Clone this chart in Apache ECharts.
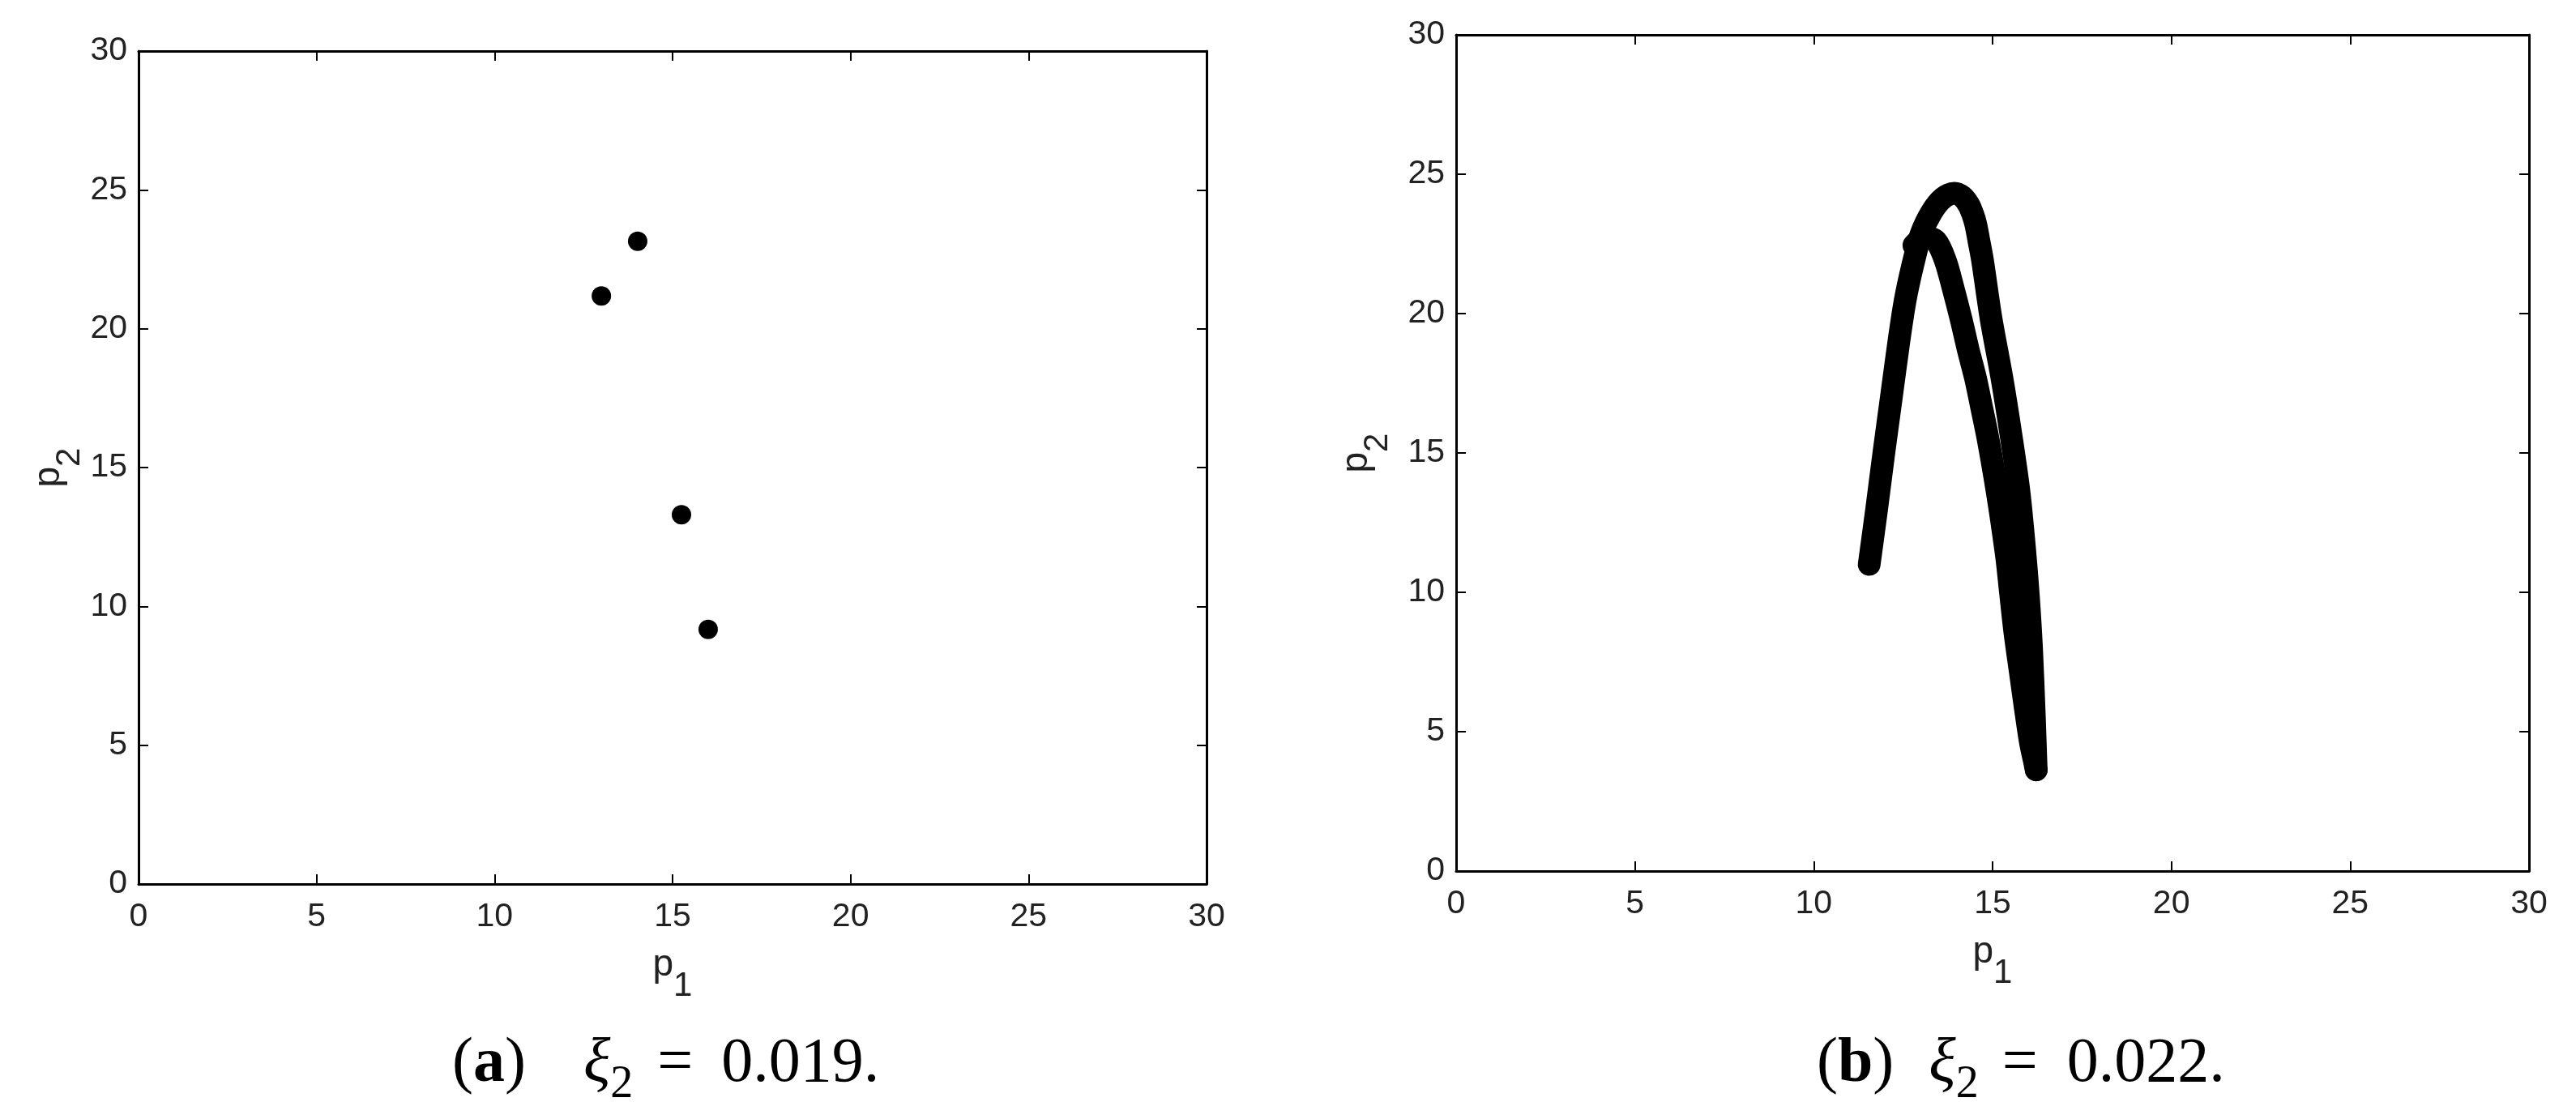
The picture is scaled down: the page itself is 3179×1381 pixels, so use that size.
<!DOCTYPE html>
<html><head><meta charset="utf-8">
<script src="https://cdn.jsdelivr.net/npm/echarts@6/dist/echarts.min.js"></script>
<style>html,body{margin:0;padding:0;background:#fff}#c{width:3179px;height:1381px}</style>
</head><body><div id="c"></div>
<script>
// ---- data ----
const axisMin = 0, axisMax = 30, axisStep = 5;
// panel (a): xi2 = 0.019, four isolated points
const panelA_p1 = [13.0, 14.02, 15.25, 16.0];
const panelA_p2 = [21.18, 23.15, 13.30, 9.17];
// panel (b): xi2 = 0.022, trajectory strands
const panelB_outer_p1 = [11.55, 11.76, 11.96, 12.17, 12.38, 12.56, 12.78, 13.00, 13.30, 13.62, 13.93, 14.15, 14.33, 14.45, 14.53, 14.62, 14.72, 14.96, 15.26, 15.52, 15.74, 15.90, 16.00, 16.09, 16.17, 16.22];
const panelB_outer_p2 = [11.0, 13.0, 15.0, 17.0, 19.0, 20.5, 21.8, 22.85, 23.65, 24.15, 24.32, 24.2, 23.91, 23.55, 23.2, 22.6, 21.9, 19.8, 17.7, 15.6, 13.6, 11.5, 9.9, 8.0, 5.5, 3.63];
const panelB_inner_p1 = [12.80, 13.10, 13.42, 13.68, 13.90, 14.12, 14.32, 14.52, 14.70, 14.86, 15.00, 15.13, 15.26, 15.40, 15.50, 15.62, 15.78, 15.92, 16.06, 16.16, 16.22];
const panelB_inner_p2 = [22.45, 22.75, 22.6, 21.9, 20.9, 19.8, 18.7, 17.7, 16.6, 15.6, 14.6, 13.6, 12.5, 11.2, 10.0, 8.6, 7.1, 5.8, 4.6, 4.0, 3.63];
const xName = 'p', xSub = '1', yName = 'p', ySub = '2';
const captionA = ['(', 'a', ')', 'ξ', '2', '=', '0.019.'];
const captionB = ['(', 'b', ')', 'ξ', '2', '=', '0.022.'];

const zip = (a, b) => a.map((v, i) => [v, b[i]]);
const sans = 'Liberation Sans, Arial, Helvetica, sans-serif';
const serif = 'Liberation Serif, Times New Roman, serif';

const nameRich = {
  m: { fontSize: 46, fontFamily: sans, color: '#222' },
  s: { fontSize: 42, fontFamily: sans, color: '#222', padding: [52, 0, 0, 0] }
};

function makeAxes(g, xGap, yGap) {
  const line = { show: true, onZero: false, lineStyle: { color: '#000', width: 3 } };
  const tick = { show: true, inside: true, length: 12, lineStyle: { color: '#000', width: 2 } };
  const lbl = { fontSize: 41, color: '#222', fontFamily: sans };
  const base = { type: 'value', gridIndex: g, min: axisMin, max: axisMax, interval: axisStep,
    axisLine: line, axisTick: tick, splitLine: { show: false } };
  return {
    x: [
      Object.assign({}, base, { position: 'bottom', axisLabel: Object.assign({ margin: 20 }, lbl),
        name: '{m|' + xName + '}{s|' + xSub + '}', nameLocation: 'middle', nameGap: xGap,
        nameTextStyle: { rich: nameRich } }),
      Object.assign({}, base, { position: 'top', axisLabel: { show: false } })
    ],
    y: [
      Object.assign({}, base, { position: 'left', axisLabel: Object.assign({ margin: 14 }, lbl),
        name: '{m|' + yName + '}{s|' + ySub + '}', nameLocation: 'middle', nameGap: yGap,
        nameTextStyle: { rich: nameRich } }),
      Object.assign({}, base, { position: 'right', axisLabel: { show: false } })
    ]
  };
}
const A = makeAxes(0, 53, 62), B = makeAxes(1, 53, 76);

function caption(parts) {
  return '{n|' + parts[0] + '}{b|' + parts[1] + '}{n|' + parts[2] + '}{i|' + parts[3] + '}{s|' + parts[4] + '}{e|' + parts[5] + '}{d|' + parts[6] + '}';
}
function capRich(gapXi, gapEq, gapNum) {
  const f = { fontSize: 78, fontFamily: serif, color: '#000' };
  return {
    n: f,
    b: Object.assign({}, f, { fontWeight: 'bold' }),
    i: Object.assign({}, f, { fontStyle: 'italic', padding: [0, 0, 0, gapXi] }),
    s: { fontSize: 56, fontFamily: serif, color: '#000', padding: [50, 0, 0, 0] },
    e: Object.assign({}, f, { padding: [0, 0, 0, gapEq] }),
    d: Object.assign({}, f, { padding: [0, 0, 0, gapNum] })
  };
}

const chart = echarts.init(document.getElementById('c'), null, { renderer: 'canvas' });
const strand = (name, xs, ys) => ({
  name, type: 'line', xAxisIndex: 2, yAxisIndex: 2, data: zip(xs, ys),
  symbol: 'none', smooth: 0.3, lineStyle: { color: '#000', width: 28, cap: 'round', join: 'round' }
});
chart.setOption({
  animation: false,
  backgroundColor: '#fff',
  grid: [
    { left: 171, top: 63, width: 1318, height: 1028 },
    { left: 1797, top: 43, width: 1324, height: 1032 }
  ],
  xAxis: [A.x[0], A.x[1], B.x[0], B.x[1]],
  yAxis: [A.y[0], A.y[1], B.y[0], B.y[1]],
  series: [
    { name: 'xi2=0.019', type: 'scatter', xAxisIndex: 0, yAxisIndex: 0,
      data: zip(panelA_p1, panelA_p2), symbol: 'circle', symbolSize: 24,
      itemStyle: { color: '#000', opacity: 1 } },
    strand('outer', panelB_outer_p1, panelB_outer_p2),
    strand('inner', panelB_inner_p1, panelB_inner_p2)
  ],
  graphic: [
    { type: 'text', x: 558, y: 1314, style: { text: caption(captionA), rich: capRich(71, 30, 35), align: 'left', verticalAlign: 'middle' } },
    { type: 'text', x: 2242, y: 1314, style: { text: caption(captionB), rich: capRich(43, 29, 36), align: 'left', verticalAlign: 'middle' } }
  ]
});
</script></body></html>
